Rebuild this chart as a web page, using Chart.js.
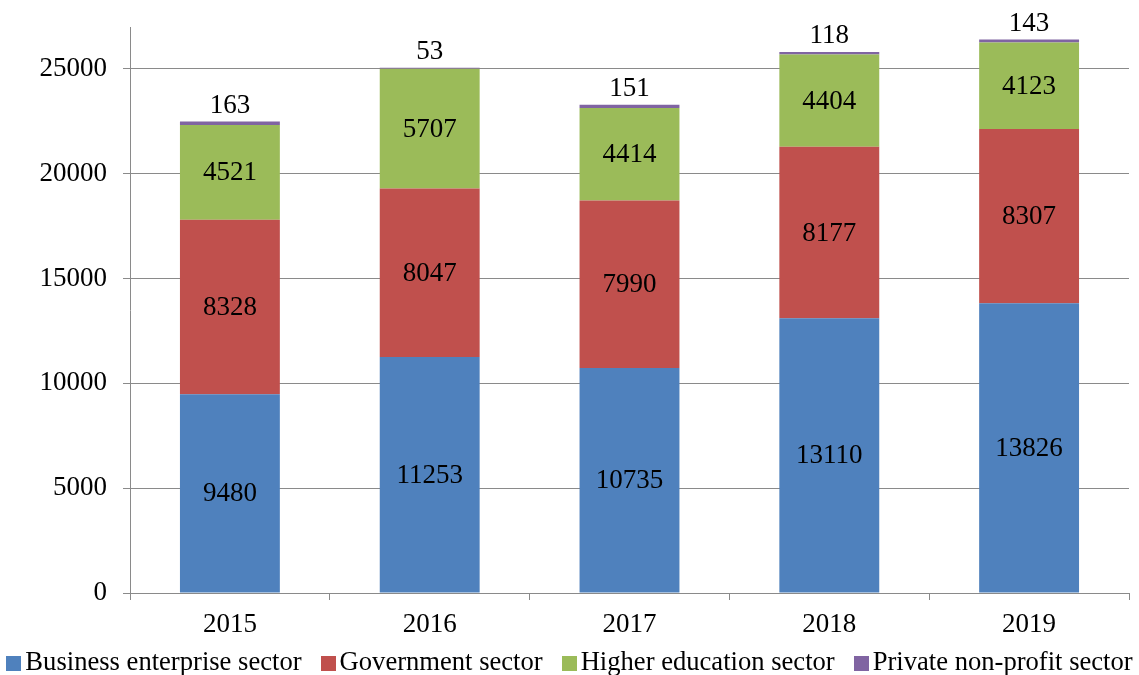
<!DOCTYPE html>
<html>
<head>
<meta charset="utf-8">
<script src="https://cdn.jsdelivr.net/npm/chart.js@4/dist/chart.umd.min.js"></script>
<style>
  body { margin: 0; background: #fff; }
  #wrap { position: relative; width: 1139px; height: 675px; }
  #legend {
    position: absolute; left: 0; top: 646px; width: 1139px;
    display: flex; justify-content: center; align-items: center;
    font-family: "Liberation Serif", "Times New Roman", serif; font-size: 26.6px; color: #000;
  }
  #legend span.item { display: flex; align-items: center; margin: 0 9.5px; white-space: nowrap; }
  #legend span.box { display: inline-block; width: 15px; height: 15px; margin-right: 4px; margin-top: 3px; }
</style>
</head>
<body>
<div id="wrap">
  <canvas id="myChart" width="1139" height="675"></canvas>
  <div id="legend"></div>
</div>
<script>
var years = ['2015', '2016', '2017', '2018', '2019'];
var business = [9480, 11253, 10735, 13110, 13826];
var government = [8328, 8047, 7990, 8177, 8307];
var higherEd = [4521, 5707, 4414, 4404, 4123];
var privateNP = [163, 53, 151, 118, 143];
var yTicks = [0, 5000, 10000, 15000, 20000, 25000];

var COLORS = ['#4F81BD', '#C0504D', '#9BBB59', '#8064A2'];
var NAMES = ['Business enterprise sector', 'Government sector', 'Higher education sector', 'Private non-profit sector'];
var FONT = '"Liberation Serif", "Times New Roman", serif';
var GRID = '#8a8a8a';

// labels inside segments, last series above the bar
var barLabels = {
  id: 'barLabels',
  afterDatasetsDraw: function(chart) {
    var ctx = chart.ctx;
    ctx.save();
    ctx.font = '27px ' + FONT;
    ctx.fillStyle = '#000';
    ctx.textAlign = 'center';
    chart.data.datasets.forEach(function(ds, di) {
      var meta = chart.getDatasetMeta(di);
      meta.data.forEach(function(el, i) {
        var v = ds.data[i];
        if (di == chart.data.datasets.length - 1) {
          ctx.textBaseline = 'alphabetic';
          ctx.fillText(v, el.x, el.y - 9);
        } else {
          ctx.textBaseline = 'middle';
          ctx.fillText(v, el.x, (el.y + el.base) / 2 + 1);
        }
      });
    });
    ctx.restore();
  }
};

var series = [business, government, higherEd, privateNP];

new Chart('myChart', {
  type: 'bar',
  data: {
    labels: years,
    datasets: series.map(function(s, i) {
      return {
        label: NAMES[i],
        data: s,
        backgroundColor: COLORS[i],
        borderWidth: 0,
        barPercentage: 0.5,
        categoryPercentage: 1.0
      };
    })
  },
  options: {
    responsive: false,
    animation: false,
    layout: { padding: { top: 27, right: 10, left: 0, bottom: 37 } },
    plugins: {
      legend: { display: false },
      tooltip: { enabled: false }
    },
    scales: {
      x: {
        stacked: true,
        offset: true,
        grid: { display: true, drawOnChartArea: false, offset: true, tickLength: 7, color: GRID },
        border: { color: GRID, width: 1 },
        ticks: { color: '#000', font: { family: FONT, size: 27 }, padding: 9 },
        afterFit: function(scale) { scale.height = 45; scale.paddingLeft = 0; scale.paddingRight = 0; }
      },
      y: {
        stacked: true,
        min: 0,
        max: 27000,
        grid: { color: GRID, tickLength: 7 },
        border: { color: GRID, width: 1 },
        ticks: {
          stepSize: 5000, color: '#000', font: { family: FONT, size: 27 }, padding: 16,
          callback: function(v) { return String(v); }
        },
        afterBuildTicks: function(scale) {
          scale.ticks = yTicks.map(function(v) { return { value: v }; });
        },
        afterFit: function(scale) { scale.width = 130; scale.paddingTop = 0; scale.paddingBottom = 0; }
      }
    }
  },
  plugins: [barLabels]
});

var legend = document.getElementById('legend');
NAMES.forEach(function(n, i) {
  var item = document.createElement('span');
  item.className = 'item';
  var box = document.createElement('span');
  box.className = 'box';
  box.style.background = COLORS[i];
  item.appendChild(box);
  item.appendChild(document.createTextNode(n));
  legend.appendChild(item);
});
</script>
</body>
</html>
